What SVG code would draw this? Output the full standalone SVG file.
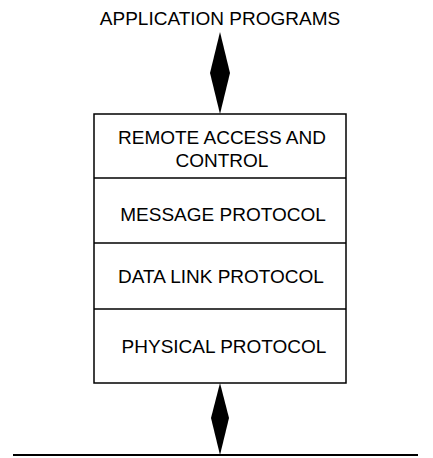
<svg xmlns="http://www.w3.org/2000/svg" width="433" height="458" viewBox="0 0 433 458">
<style>
.t{font-family:"Liberation Sans",Arial,sans-serif;font-size:19px;fill:#000;text-anchor:middle}
.box{fill:#fff;stroke:#000;stroke-width:1.5}
.div{stroke:#000;stroke-width:1.5;fill:none}
.dia{fill:#000;stroke:none}
</style>
<rect width="433" height="458" fill="#fff"/>
<g id="application-programs">
<text class="t" x="220" y="25">APPLICATION PROGRAMS</text>
</g>
<g id="stack">
<rect class="box" x="94" y="114" width="252" height="269"/>
</g>
<g id="remote-access">
<text class="t" x="222" y="144">REMOTE ACCESS AND</text>
<text class="t" x="222" y="167">CONTROL</text>
</g>
<g id="message-protocol">
<line class="div" x1="94" y1="178" x2="346" y2="178"/>
<text class="t" x="223" y="221">MESSAGE PROTOCOL</text>
</g>
<g id="data-link-protocol">
<line class="div" x1="94" y1="243" x2="346" y2="243"/>
<text class="t" x="221" y="283">DATA LINK PROTOCOL</text>
</g>
<g id="physical-protocol">
<line class="div" x1="94" y1="309" x2="346" y2="309"/>
<text class="t" x="224" y="353">PHYSICAL PROTOCOL</text>
</g>
<g id="connectors">
<polygon class="dia" points="220,32 230,73 220,114 210,73"/>
<polygon class="dia" points="220,383 229,418 220,455 211,418"/>
<line x1="13" y1="455" x2="418" y2="455" stroke="#000" stroke-width="2"/>
</g>
</svg>
